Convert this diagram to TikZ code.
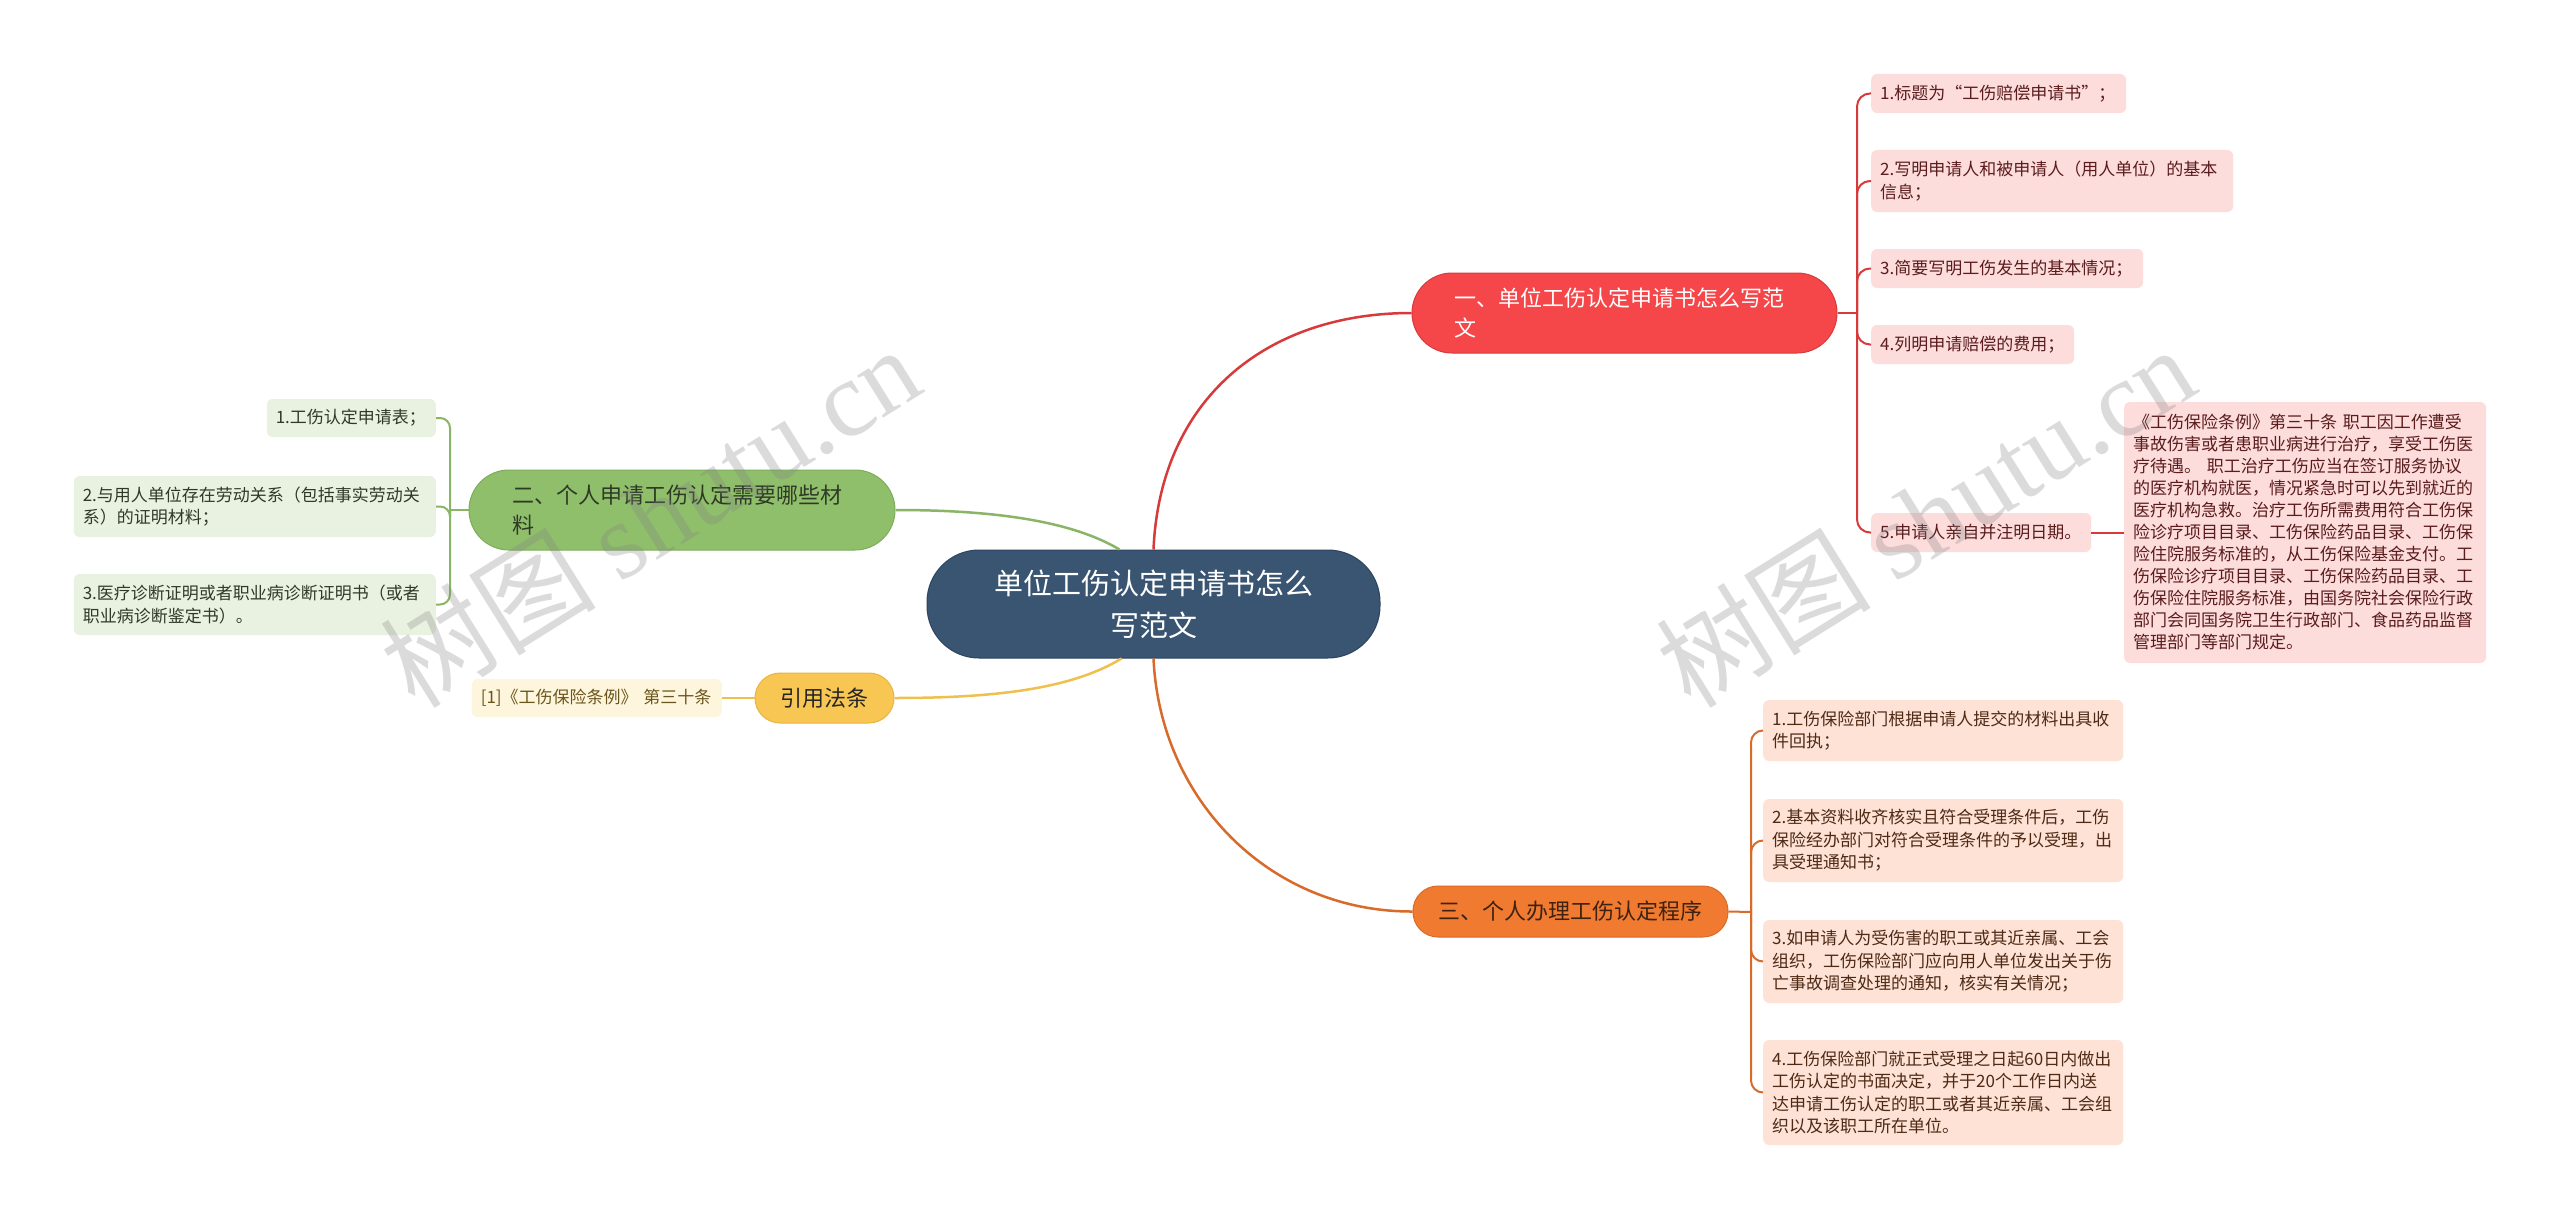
\documentclass[tikz,border=0pt]{standalone}
\usepackage{fontspec}
\setmainfont{Noto Sans CJK SC}
\newfontfamily\wmlatin{Liberation Serif}
\definecolor{rootfill}{HTML}{3A5571}
\definecolor{rootdraw}{HTML}{2C4560}
\definecolor{redfill}{HTML}{F5474A}
\definecolor{reddraw}{HTML}{D93A3D}
\definecolor{redline}{HTML}{D63A3A}
\definecolor{redleaf}{HTML}{FDDCDC}
\definecolor{redtext}{HTML}{5A1C1C}
\definecolor{greenfill}{HTML}{90BF6C}
\definecolor{greendraw}{HTML}{7DAD5A}
\definecolor{greenline}{HTML}{8AB567}
\definecolor{greenleaf}{HTML}{E9F1E1}
\definecolor{greentext}{HTML}{2F3A26}
\definecolor{yellowfill}{HTML}{F8C653}
\definecolor{yellowdraw}{HTML}{E8B443}
\definecolor{yellowline}{HTML}{F0C04E}
\definecolor{yellowleaf}{HTML}{FEF5DD}
\definecolor{yellowtext}{HTML}{6A561C}
\definecolor{orangefill}{HTML}{F07A30}
\definecolor{orangedraw}{HTML}{DC6A24}
\definecolor{orangeline}{HTML}{D86A2A}
\definecolor{orangeleaf}{HTML}{FDE2D5}
\definecolor{orangetext}{HTML}{4E2A16}
\begin{document}
\begin{tikzpicture}[x=1pt,y=-1pt,
  rootbox/.style={fill=rootfill,draw=rootdraw,line width=1pt,rounded corners=52pt,
    minimum width=453pt,minimum height=108pt,align=center,text=white,
    inner sep=0pt,font=\fontsize{29}{42}\selectfont},
  mainbox/.style={rounded corners=#1,line width=1pt,inner sep=0pt,
    font=\fontsize{22}{30}\selectfont},
  leafbox/.style={rounded corners=6pt,inner xsep=9pt,inner ysep=0pt,align=left,
    font=\fontsize{17}{22.5}\selectfont},
  mainline/.style={line width=2.5pt},
  brline/.style={line width=2pt},
  wmark/.style={rotate=32,text=gray,opacity=0.28,font=\fontsize{108}{108}\selectfont}]
\useasboundingbox (0,0) rectangle (2560,1220);
\fill[white] (0,0) rectangle (2560,1220);

% root
\node[rootbox] (root) at (1153.5,604) {单位工伤认定申请书怎么\\写范文};

% main branches
\node[mainbox=40pt,fill=redfill,draw=reddraw,text=white,minimum width=425pt,
  minimum height=80pt,text width=340pt,align=left] (red) at (1624.5,313)
  {一、单位工伤认定申请书怎么写范\\文};
\node[mainbox=40pt,fill=greenfill,draw=greendraw,text=greentext,minimum width=426pt,
  minimum height=80pt,text width=340pt,align=left] (green) at (682,510)
  {二、个人申请工伤认定需要哪些材\\料};
\node[mainbox=25pt,fill=orangefill,draw=orangedraw,text=orangetext!80!black,minimum width=315pt,
  minimum height=51pt] (orange) at (1570.5,911.5) {三、个人办理工伤认定程序};
\node[mainbox=25pt,fill=yellowfill,draw=yellowdraw,text=black!85,minimum width=139pt,
  minimum height=50pt] (yellow) at (824.5,698) {引用法条};

% red leaves
\begin{scope}[every node/.append style={leafbox,fill=redleaf,text=redtext,anchor=west}]
\node[text width=237pt,minimum height=39pt] (r1) at (1871,93.5) {1.标题为“工伤赔偿申请书”；};
\node[text width=344pt,minimum height=62pt] (r2) at (1871,181) {2.写明申请人和被申请人（用人单位）的基本\\信息；};
\node[text width=254pt,minimum height=39pt] (r3) at (1871,268.5) {3.简要写明工伤发生的基本情况；};
\node[text width=185pt,minimum height=39pt] (r4) at (1871,344.5) {4.列明申请赔偿的费用；};
\node[text width=202pt,minimum height=39pt] (r5) at (1871,532.5) {5.申请人亲自并注明日期。};
\node[text width=344pt,minimum height=261pt,
  font=\fontsize{17}{22}\selectfont] (note) at (2124,532.5)
 {《工伤保险条例》第三十条 职工因工作遭受\\
  事故伤害或者患职业病进行治疗，享受工伤医\\
  疗待遇。 职工治疗工伤应当在签订服务协议\\
  的医疗机构就医，情况紧急时可以先到就近的\\
  医疗机构急救。治疗工伤所需费用符合工伤保\\
  险诊疗项目目录、工伤保险药品目录、工伤保\\
  险住院服务标准的，从工伤保险基金支付。工\\
  伤保险诊疗项目目录、工伤保险药品目录、工\\
  伤保险住院服务标准，由国务院社会保险行政\\
  部门会同国务院卫生行政部门、食品药品监督\\
  管理部门等部门规定。};
\end{scope}

% orange leaves
\begin{scope}[every node/.append style={leafbox,fill=orangeleaf,text=orangetext,anchor=west}]
\node[text width=342pt,minimum height=61pt] (o1) at (1763,730.5)
 {1.工伤保险部门根据申请人提交的材料出具收\\件回执；};
\node[text width=342pt,minimum height=83pt] (o2) at (1763,840.5)
 {2.基本资料收齐核实且符合受理条件后，工伤\\保险经办部门对符合受理条件的予以受理，出\\具受理通知书；};
\node[text width=342pt,minimum height=83pt] (o3) at (1763,961.5)
 {3.如申请人为受伤害的职工或其近亲属、工会\\组织，工伤保险部门应向用人单位发出关于伤\\亡事故调查处理的通知，核实有关情况；};
\node[text width=342pt,minimum height=105pt] (o4) at (1763,1092.5)
 {4.工伤保险部门就正式受理之日起60日内做出\\工伤认定的书面决定，并于20个工作日内送\\达申请工伤认定的职工或者其近亲属、工会组\\织以及该职工所在单位。};
\end{scope}

% green leaves
\begin{scope}[every node/.append style={leafbox,fill=greenleaf,text=greentext,anchor=east}]
\node[text width=151pt,minimum height=38pt] (g1) at (436,418) {1.工伤认定申请表；};
\node[text width=344pt,minimum height=61pt] (g2) at (436,506.5)
 {2.与用人单位存在劳动关系（包括事实劳动关\\系）的证明材料；};
\node[text width=344pt,minimum height=61pt] (g3) at (436,604.5)
 {3.医疗诊断证明或者职业病诊断证明书（或者\\职业病诊断鉴定书）。};
\end{scope}

% yellow leaf
\node[leafbox,fill=yellowleaf,text=yellowtext,anchor=east,text width=232pt,
  minimum height=38pt] (y1) at (722,698) {[1]《工伤保险条例》 第三十条};

% main connectors
\draw[mainline,redline] (root.north) .. controls (1160,400) and (1265,313) .. (red.west);
\draw[mainline,orangeline] (root.south) .. controls (1160,800) and (1270,912) .. (orange.west);
\draw[mainline,greenline] ([xshift=-34pt]root.north) .. controls (1070,520) and (990,510) .. (green.east);
\draw[mainline,yellowline] ([xshift=-32pt]root.south) .. controls (1070,690) and (990,698) .. (yellow.east);

% red bracket
\coordinate (rj) at (1857,313);
\draw[brline,redline] (red.east) -- (rj);
\foreach \n in {r1,r2,r3,r4,r5}{
  \draw[brline,redline,rounded corners=13pt] (rj) |- (\n.west);
}
\draw[brline,redline] (r5.east) -- (note.west);

% orange bracket
\coordinate (oj) at (1751,912);
\draw[brline,orangeline] (orange.east) -- (oj);
\foreach \n in {o1,o2,o3,o4}{
  \draw[brline,orangeline,rounded corners=12pt] (oj) |- (\n.west);
}

% green bracket
\coordinate (gj) at (450,510);
\draw[brline,greenline] (green.west) -- (gj);
\foreach \n in {g1,g2,g3}{
  \draw[brline,greenline,rounded corners=10pt] (gj) |- (\n.east);
}

% yellow connector
\draw[brline,yellowline] (yellow.west) -- (y1.east);

% watermarks
\node[wmark] (wm1) at (650,516) {树图 {\wmlatin shutu.cn}};
\node[wmark] (wm2) at (1925,516) {树图 {\wmlatin shutu.cn}};
\end{tikzpicture}
\end{document}
